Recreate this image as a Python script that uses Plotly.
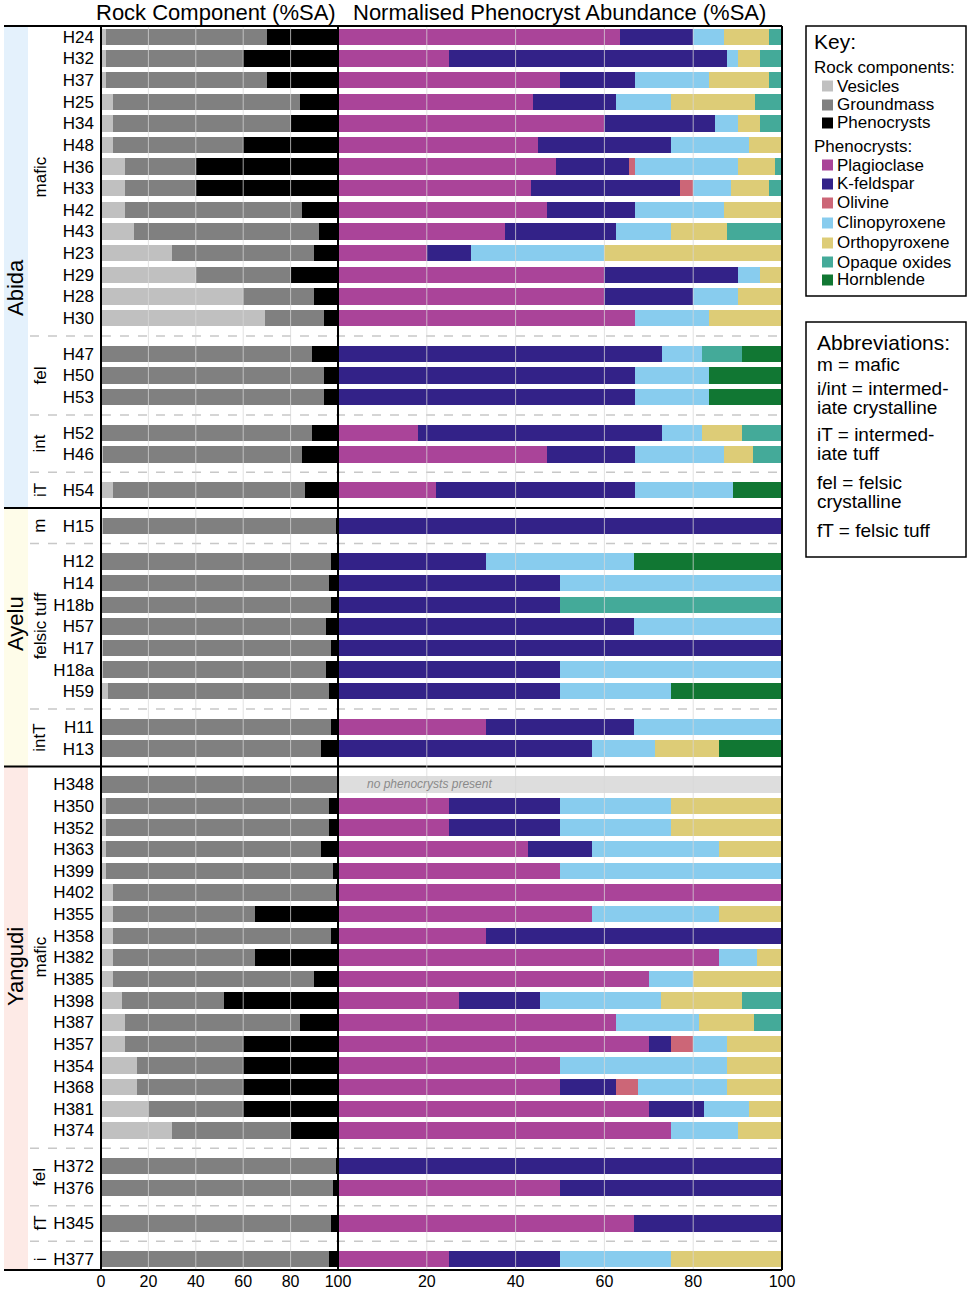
import plotly.graph_objects as go

# muestras en orden de arriba a abajo
samples = ["H24", "H32", "H37", "H25", "H34", "H48", "H36", "H33", "H42", "H43", "H23", "H29", "H28", "H30",
           "H47", "H50", "H53", "H52", "H46", "H54",
           "H15", "H12", "H14", "H18b", "H57", "H17", "H18a", "H59", "H11", "H13",
           "H348", "H350", "H352", "H363", "H399", "H402", "H355", "H358", "H382", "H385", "H398", "H387",
           "H357", "H354", "H368", "H381", "H374",
           "H372", "H376", "H345", "H377"]

group_labels = ["mafic", "fel", "int", "iT", "m", "felsic tuff", "intT", "mafic", "fel", "fT", "i"]
group_sizes = [14, 3, 2, 1, 1, 7, 2, 17, 2, 1, 1]
volcanoes = ["Abida", "Ayelu", "Yangudi"]
volcano_groups = [4, 3, 4]

# Rock component (%SA)
vesicles = [2, 2, 2, 5, 5, 5, 10, 10, 10, 14, 30, 40, 60, 69,
            0.5, 0.5, 0.5, 0.5, 1, 5,
            1, 0.5, 0.5, 0.5, 0.5, 1, 1, 3, 0.5, 0.5,
            0.5, 2, 2, 2, 2, 5, 5, 5, 5, 5, 9, 10, 10, 15, 15, 20, 30,
            0.5, 0.5, 0.5, 0.5]
groundmass = [68, 58, 68, 79, 75, 55, 30, 30, 75, 78, 60, 40, 30, 25,
              88.5, 93.5, 93.5, 88.5, 84, 81,
              98, 96.5, 95.5, 96.5, 94.5, 96, 94, 93, 96.5, 92.5,
              99.5, 94, 94, 91, 96, 94, 60, 92, 60, 85, 43, 74, 50, 45, 45, 40, 50,
              98.5, 97.5, 96.5, 95.5]
phenocrysts = [30, 40, 30, 16, 20, 40, 60, 60, 15, 8, 10, 20, 10, 6,
               11, 6, 6, 11, 15, 14,
               1, 3, 4, 3, 5, 3, 5, 4, 3, 7,
               0, 4, 4, 7, 2, 1, 35, 3, 35, 10, 48, 16, 40, 40, 40, 40, 20,
               1, 2, 3, 4]

# Normalised phenocryst abundance (%SA)
plagioclase = [63.5, 25, 50, 44, 60, 45, 49, 43.5, 47, 37.5, 20, 60, 60, 67,
               0, 0, 0, 18, 47, 22,
               0, 0, 0, 0, 0, 0, 0, 0, 33.3, 0,
               0, 25, 25, 42.9, 50, 100, 57.1, 33.3, 85.7, 70, 27.3, 62.5, 70, 50, 50, 70, 75,
               0, 50, 66.7, 25]
k_feldspar = [16.5, 62.5, 17, 18.5, 25, 30, 16.5, 33.5, 20, 25, 10, 30, 20, 0,
              73, 67, 67, 55, 20, 45,
              100, 33.3, 50, 50, 66.7, 100, 50, 50, 33.3, 57.1,
              0, 25, 25, 14.3, 0, 0, 0, 66.7, 0, 0, 18.2, 0, 5, 0, 12.5, 12.5, 0,
              100, 50, 33.3, 25]
olivine = [0, 0, 0, 0, 0, 0, 1.5, 3, 0, 0, 0, 0, 0, 0,
           0, 0, 0, 0, 0, 0,
           0, 0, 0, 0, 0, 0, 0, 0, 0, 0,
           0, 0, 0, 0, 0, 0, 0, 0, 0, 0, 0, 0, 5, 0, 5, 0, 0,
           0, 0, 0, 0]
clinopyroxene = [7, 2.5, 16.5, 12.5, 5, 17.5, 23, 8.5, 20, 12.5, 30, 5, 10, 16.5,
                 9, 16.5, 16.5, 9, 20, 22,
                 0, 33.3, 50, 0, 33.3, 0, 50, 25, 33.4, 14.3,
                 0, 25, 25, 28.6, 50, 0, 28.6, 0, 8.6, 10, 27.3, 18.75, 7.5, 37.5, 20, 10, 15,
                 0, 0, 0, 25]
orthopyroxene = [10, 5, 13.5, 19, 5, 7.5, 8.5, 8.5, 13, 12.5, 40, 5, 10, 16.5,
                 0, 0, 0, 9, 6.5, 0,
                 0, 0, 0, 0, 0, 0, 0, 0, 0, 14.3,
                 0, 25, 25, 14.2, 0, 0, 14.3, 0, 5.7, 20, 18.2, 12.5, 12.5, 12.5, 12.5, 7.5, 10,
                 0, 0, 0, 25]
opaque_oxides = [3, 5, 3, 6, 5, 0, 1.5, 3, 0, 12.5, 0, 0, 0, 0,
                 9, 0, 0, 9, 6.5, 0,
                 0, 0, 0, 50, 0, 0, 0, 0, 0, 0,
                 0, 0, 0, 0, 0, 0, 0, 0, 0, 0, 9, 6.25, 0, 0, 0, 0, 0,
                 0, 0, 0, 0]
hornblende = [0, 0, 0, 0, 0, 0, 0, 0, 0, 0, 0, 0, 0, 0,
              9, 16.5, 16.5, 0, 0, 11,
              0, 33.4, 0, 0, 0, 0, 0, 25, 0, 14.3,
              0, 0, 0, 0, 0, 0, 0, 0, 0, 0, 0, 0, 0, 0, 0, 0, 0,
              0, 0, 0, 0]

no_phenocrysts = ["H348"]

x_ticks_left = [0, 20, 40, 60, 80, 100]
x_ticks_right = [20, 40, 60, 80, 100]
grid_vals = [20, 40, 60, 80]

FONT = "Liberation Sans, Arial, sans-serif"
W, H = 969, 1293


def px(x):
    return x / W


def py(y):
    return 1 - y / H


# posiciones verticales, con un hueco entre grupos
gap = 0.65
positions = []
separators = []
y = 0
for gi, n in enumerate(group_sizes):
    if gi > 0:
        y += gap
    for k in range(n):
        positions.append(y)
        y += 1
    separators.append(y - 1 + (1 + gap) / 2)
group_centers = []
i = 0
for n in group_sizes:
    group_centers.append((positions[i] + positions[i + n - 1]) / 2)
    i += n

rock = [("Vesicles", vesicles, "#C0C0C0"),
        ("Groundmass", groundmass, "#808080"),
        ("Phenocrysts", phenocrysts, "#000000")]
pheno = [("Plagioclase", plagioclase, "#AA4499"),
         ("K-feldspar", k_feldspar, "#332288"),
         ("Olivine", olivine, "#CC6677"),
         ("Clinopyroxene", clinopyroxene, "#88CCEE"),
         ("Orthopyroxene", orthopyroxene, "#DDCC77"),
         ("Opaque oxides", opaque_oxides, "#44AA99"),
         ("Hornblende", hornblende, "#117733")]

fig = go.Figure()
for name, vals, col in rock:
    fig.add_trace(go.Bar(x=vals, y=positions, orientation="h", name=name, width=0.76,
                         marker=dict(color=col, line=dict(width=0)),
                         xaxis="x", yaxis="y", showlegend=False))
for name, vals, col in pheno:
    fig.add_trace(go.Bar(x=vals, y=positions, orientation="h", name=name, width=0.76,
                         marker=dict(color=col, line=dict(width=0)),
                         xaxis="x2", yaxis="y", showlegend=False))

# barra gris "no phenocrysts present"
np_pos = [positions[samples.index(s)] for s in no_phenocrysts]
fig.add_trace(go.Bar(x=[100] * len(np_pos), y=np_pos, orientation="h", width=0.76,
                     marker=dict(color="#DDDDDD", line=dict(width=0)),
                     xaxis="x2", yaxis="y", showlegend=False))

shapes = []
annotations = []

# bandas de color de cada volcán
band_cols = ["#E4F1FC", "#FEFCE9", "#FDEAE6"]
gi = 0
top = -0.5
for v, ng in enumerate(volcano_groups):
    gi += ng
    bottom = separators[gi - 1] if gi < len(group_sizes) else 57.0
    shapes.append(dict(type="rect", xref="paper", yref="y", x0=px(4), x1=px(28), y0=top, y1=bottom,
                       fillcolor=band_cols[v], line=dict(width=0), layer="below"))
    top = bottom

# separadores
volcano_ends = []
acc = 0
for ng in volcano_groups:
    acc += ng
    volcano_ends.append(acc - 1)
for gi, s in enumerate(separators[:-1]):
    if gi in volcano_ends:
        shapes.append(dict(type="line", xref="paper", yref="y", x0=px(4), x1=px(782), y0=s, y1=s,
                           line=dict(color="black", width=2)))
    else:
        shapes.append(dict(type="line", xref="paper", yref="y", x0=px(30), x1=px(782), y0=s, y1=s,
                           line=dict(color="#C8C8C8", width=1.5, dash="dash"), layer="below"))

# rejilla encima de las barras
for ax in ["x", "x2"]:
    for g in grid_vals:
        shapes.append(dict(type="line", xref=ax, yref="paper", x0=g, x1=g, y0=py(1270), y1=py(26),
                           line=dict(color="rgba(215,215,215,0.75)", width=1), layer="above"))

# marco
shapes.append(dict(type="line", xref="paper", yref="paper", x0=px(4), x1=px(782), y0=py(26), y1=py(26),
                   line=dict(color="black", width=2)))
shapes.append(dict(type="line", xref="paper", yref="paper", x0=px(4), x1=px(782), y0=py(1270), y1=py(1270),
                   line=dict(color="black", width=2)))
for xv in [101, 338, 782]:
    shapes.append(dict(type="line", xref="paper", yref="paper", x0=px(xv), x1=px(xv), y0=py(26), y1=py(1270),
                       line=dict(color="black", width=2)))

# textos de grupos
for lab, c in zip(group_labels, group_centers):
    annotations.append(dict(text=lab, x=px(40), y=c, xref="paper", yref="y", showarrow=False,
                            textangle=-90, xanchor="center", yanchor="middle",
                            font=dict(family=FONT, size=17, color="black")))
volcano_label_y = [287, 623, 967]
for v, yy in zip(volcanoes, volcano_label_y):
    annotations.append(dict(text=v, x=px(16), y=py(yy), xref="paper", yref="paper", showarrow=False,
                            textangle=-90, xanchor="center", yanchor="middle",
                            font=dict(family=FONT, size=22, color="black")))

for p in np_pos:
    annotations.append(dict(text="<i>no phenocrysts present</i>", x=6, y=p, xref="x2", yref="y",
                            showarrow=False, xanchor="left", yanchor="middle",
                            font=dict(family=FONT, size=12, color="#8A8A8A")))

# títulos
annotations.append(dict(text="Rock Component (%SA)", x=px(216), y=py(12), xref="paper", yref="paper",
                        showarrow=False, xanchor="center", yanchor="middle",
                        font=dict(family=FONT, size=22, color="black")))
annotations.append(dict(text="Normalised Phenocryst Abundance (%SA)", x=px(559), y=py(12), xref="paper",
                        yref="paper", showarrow=False, xanchor="center", yanchor="middle",
                        font=dict(family=FONT, size=22, color="black")))

# Key
shapes.append(dict(type="rect", xref="paper", yref="paper", x0=px(806), x1=px(966), y0=py(26), y1=py(296),
                   line=dict(color="black", width=1.5), fillcolor="white"))
annotations.append(dict(text="Key:", x=px(812), y=py(41), xref="paper", yref="paper", showarrow=False,
                        xanchor="left", yanchor="middle", font=dict(family=FONT, size=21, color="black")))
annotations.append(dict(text="Rock components:", x=px(812), y=py(67), xref="paper", yref="paper",
                        showarrow=False, xanchor="left", yanchor="middle",
                        font=dict(family=FONT, size=17, color="black")))
annotations.append(dict(text="Phenocrysts:", x=px(812), y=py(146), xref="paper", yref="paper",
                        showarrow=False, xanchor="left", yanchor="middle",
                        font=dict(family=FONT, size=17, color="black")))
key_y = [86, 105, 123, 165, 184, 203, 223, 243, 262, 280]
for (name, vals, col), ky in zip(rock + pheno, key_y):
    shapes.append(dict(type="rect", xref="paper", yref="paper", x0=px(822), x1=px(833),
                       y0=py(ky - 5.5), y1=py(ky + 5.5), fillcolor=col, line=dict(width=0)))
    annotations.append(dict(text=name, x=px(835), y=py(ky), xref="paper", yref="paper", showarrow=False,
                            xanchor="left", yanchor="middle", font=dict(family=FONT, size=17, color="black")))

# Abbreviations
shapes.append(dict(type="rect", xref="paper", yref="paper", x0=px(806), x1=px(966), y0=py(322), y1=py(557),
                   line=dict(color="black", width=1.5), fillcolor="white"))
abbr = [("Abbreviations:", 342, 21),
        ("m = mafic", 365, 19),
        ("i/int = intermed-", 388, 19),
        ("iate crystalline", 407, 19),
        ("iT = intermed-", 435, 19),
        ("iate tuff", 453, 19),
        ("fel = felsic", 483, 19),
        ("crystalline", 502, 19),
        ("fT = felsic tuff", 530, 19)]
for t, yy, fs in abbr:
    annotations.append(dict(text=t, x=px(815), y=py(yy), xref="paper", yref="paper", showarrow=False,
                            xanchor="left", yanchor="middle", font=dict(family=FONT, size=fs, color="black")))

fig.update_layout(
    width=W, height=H,
    margin=dict(l=0, r=0, t=0, b=0),
    paper_bgcolor="white", plot_bgcolor="rgba(0,0,0,0)",
    barmode="stack", bargap=0,
    font=dict(family=FONT, color="black"),
    xaxis=dict(domain=[px(101), px(338)], range=[0, 100], tickvals=x_ticks_left, anchor="y",
               showgrid=False, zeroline=False, showline=False, ticks="", automargin=False,
               tickfont=dict(size=16, color="black"), fixedrange=True),
    xaxis2=dict(domain=[px(338), px(782)], range=[0, 100], tickvals=x_ticks_right, anchor="y",
                showgrid=False, zeroline=False, showline=False, ticks="", automargin=False,
                tickfont=dict(size=16, color="black"), fixedrange=True),
    yaxis=dict(domain=[py(1270), py(26)], range=[57.0, -0.5], tickvals=positions, ticktext=samples,
               anchor="x", showgrid=False, zeroline=False, showline=False, ticks="", automargin=False,
               ticklabelstandoff=6, tickfont=dict(size=17, color="black"), fixedrange=True),
    shapes=shapes,
    annotations=annotations,
)

# quitar el margen por defecto de la página para que la figura ocupe toda la ventana
fig.write_html("out.html", config={"displayModeBar": False},
               post_script="document.body.style.margin = '0';")
